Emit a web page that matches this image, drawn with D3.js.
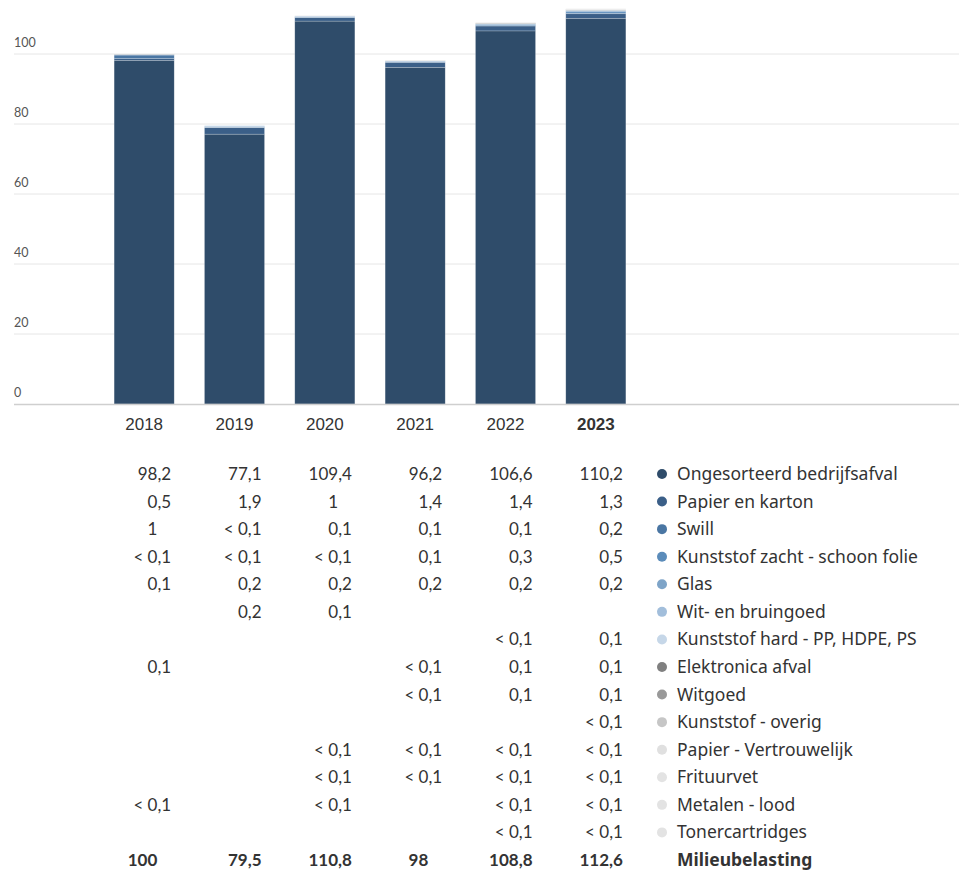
<!DOCTYPE html>
<html>
<head>
<meta charset="utf-8">
<script src="https://cdn.jsdelivr.net/npm/d3@7"></script>
<style>
  body { margin: 0; background: #fff; }
  svg { display: block; font-family: Lato, "Noto Sans", sans-serif; }
</style>
</head>
<body>
<script>
let width = 959;
let height = 870;

// data
let years = ["2018", "2019", "2020", "2021", "2022", "2023"];
let categories = [
  "Ongesorteerd bedrijfsafval",
  "Papier en karton",
  "Swill",
  "Kunststof zacht - schoon folie",
  "Glas",
  "Wit- en bruingoed",
  "Kunststof hard - PP, HDPE, PS",
  "Elektronica afval",
  "Witgoed",
  "Kunststof - overig",
  "Papier - Vertrouwelijk",
  "Frituurvet",
  "Metalen - lood",
  "Tonercartridges"
];
let colors = [
  "#2f4c6a", "#3b5f88", "#4a76a3", "#5b8cba", "#7ea4c8", "#a2bedb", "#c6d7e8",
  "#808080", "#999999", "#c6c6c6", "#e0e0e0", "#e3e3e3", "#e3e3e3", "#e3e3e3"
];
// 0.05 stands for "< 0,1", null = no value
let lt = 0.05;
let values = [
  [98.2, 77.1, 109.4, 96.2, 106.6, 110.2],
  [0.5, 1.9, 1, 1.4, 1.4, 1.3],
  [1, lt, 0.1, 0.1, 0.1, 0.2],
  [lt, lt, lt, 0.1, 0.3, 0.5],
  [0.1, 0.2, 0.2, 0.2, 0.2, 0.2],
  [null, 0.2, 0.1, null, null, null],
  [null, null, null, null, lt, 0.1],
  [0.1, null, null, lt, 0.1, 0.1],
  [null, null, null, lt, 0.1, 0.1],
  [null, null, null, null, null, lt],
  [null, null, lt, lt, lt, lt],
  [null, null, lt, lt, lt, lt],
  [lt, null, lt, null, lt, lt],
  [null, null, null, null, lt, lt]
];
let totals = [100, 79.5, 110.8, 98, 108.8, 112.6];
let totalLabel = "Milieubelasting";
let yTicks = [0, 20, 40, 60, 80, 100];

let svg = d3.select("body").append("svg")
  .attr("width", width)
  .attr("height", height);

let x = d3.scaleBand()
  .domain(years)
  .range([99, 641])
  .paddingInner(0.335)
  .paddingOuter(0.1675);

let y = d3.scaleLinear()
  .domain([0, 100])
  .range([404, 54]);

// grid + y labels
let grid = svg.append("g");
grid.selectAll("line")
  .data(yTicks.filter(d => d > 0))
  .enter().append("line")
  .attr("x1", 14).attr("x2", width)
  .attr("y1", d => y(d)).attr("y2", d => y(d))
  .attr("stroke", "#e6e6e6").attr("stroke-width", 1);
grid.selectAll("text")
  .data(yTicks)
  .enter().append("text")
  .attr("x", 14)
  .attr("y", d => y(d) - 7)
  .attr("font-size", 12.5)
  .attr("fill", "#555")
  .text(d => d);

// stacked bars
let rows = years.map((yr, i) => {
  let r = { year: yr };
  categories.forEach((c, j) => { r[c] = values[j][i] || 0; });
  return r;
});
let stack = d3.stack().keys(categories)(rows);

svg.append("g").selectAll("g")
  .data(stack)
  .enter().append("g")
  .attr("fill", (d, i) => colors[i])
  .selectAll("rect")
  .data(d => d.filter(p => p[1] - p[0] > 0))
  .enter().append("rect")
  .attr("x", d => x(d.data.year))
  .attr("width", x.bandwidth())
  .attr("y", d => y(d[1]))
  .attr("height", d => y(d[0]) - y(d[1]))
  .attr("stroke", "rgba(255,255,255,0.35)")
  .attr("stroke-width", 0.6);

// baseline
svg.append("line")
  .attr("x1", 14).attr("x2", width)
  .attr("y1", y(0) + 0.5).attr("y2", y(0) + 0.5)
  .attr("stroke", "#cfcfcf").attr("stroke-width", 1.5);

// x labels
let xAxis = d3.axisBottom(x).tickSize(0).tickPadding(0);
let xg = svg.append("g")
  .attr("transform", "translate(0," + 430 + ")")
  .call(xAxis);
xg.select(".domain").remove();
xg.selectAll("text")
  .attr("dy", 0)
  .attr("font-size", 17)
  .attr("font-family", null)
  .attr("fill", "#333")
  .attr("font-weight", (d, i) => (i === years.length - 1 ? "bold" : null));

// table
let rowStep = 27.57;
let rowY0 = 480;
let fmt = v => (v < 0.1 ? "< 0,1" : String(v).replace(".", ","));
let colRight = yr => x(yr) + x.bandwidth() - 3;

// width of ",0" for decimal alignment of integers
let probe = svg.append("text").attr("font-size", 17).text(",0");
let decW = probe.node().getComputedTextLength();
probe.attr("font-weight", "bold");
let decWB = probe.node().getComputedTextLength();
probe.remove();

let table = svg.append("g").attr("font-size", 17).attr("fill", "#333");

categories.forEach((c, j) => {
  let ty = rowY0 + j * rowStep;
  years.forEach((yr, i) => {
    let v = values[j][i];
    if (v == null) return;
    let isInt = v >= 0.1 && Number.isInteger(v);
    table.append("text")
      .attr("x", colRight(yr) - (isInt ? decW : 0))
      .attr("y", ty)
      .attr("text-anchor", "end")
      .text(fmt(v));
  });
  table.append("circle")
    .attr("cx", 662)
    .attr("cy", ty - 6)
    .attr("r", 5)
    .attr("fill", colors[j]);
  table.append("text")
    .attr("x", 677)
    .attr("y", ty)
    .attr("font-family", "'Noto Sans', sans-serif")
    .attr("font-size", 17.5)
    .text(c);
});

let totY = rowY0 + categories.length * rowStep;
years.forEach((yr, i) => {
  let v = totals[i];
  table.append("text")
    .attr("x", colRight(yr) - (Number.isInteger(v) ? decWB : 0))
    .attr("y", totY)
    .attr("text-anchor", "end")
    .attr("font-weight", "bold")
    .text(fmt(v));
});
table.append("text")
  .attr("x", 677)
  .attr("y", totY)
  .attr("font-family", "'Noto Sans', sans-serif")
  .attr("font-size", 17.5)
  .attr("font-weight", "bold")
  .text(totalLabel);
</script>
</body>
</html>
